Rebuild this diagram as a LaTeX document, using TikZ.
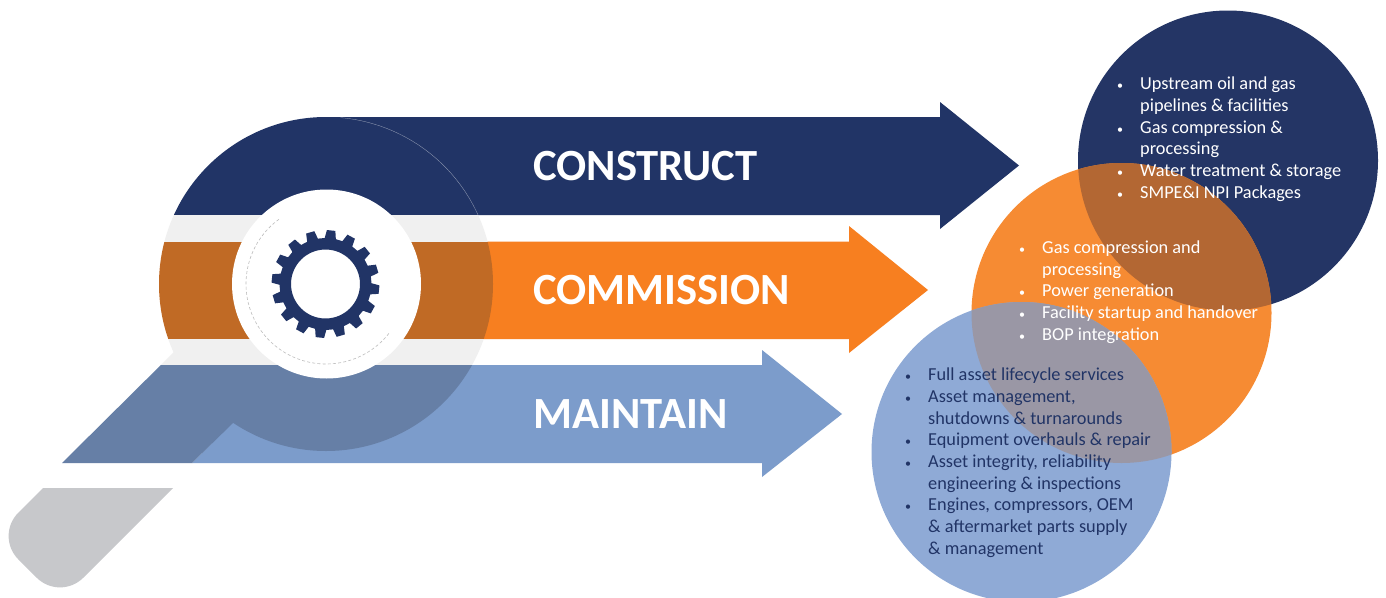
\documentclass[tikz,border=0pt]{standalone}
\usepackage{fontspec}
\setmainfont{Carlito}
\definecolor{navy}{HTML}{213466}
\definecolor{navyc}{HTML}{243565}
\definecolor{orangea}{HTML}{F77F20}
\definecolor{orangei}{HTML}{C06A25}
\definecolor{orangec}{HTML}{F68B33}
\definecolor{bluea}{HTML}{7C9CCB}
\definecolor{bluei}{HTML}{667FA6}
\definecolor{bluec}{HTML}{8FAAD6}
\definecolor{bandgrey}{HTML}{F0F0F0}
\definecolor{tailgrey}{HTML}{C7C8CB}
\definecolor{ovnavy}{HTML}{B36733}
\definecolor{ovblue}{HTML}{9A97A5}
\definecolor{dashgrey}{HTML}{BDBDBD}
\newcommand{\bl}{\leavevmode\llap{{\fontsize{12}{12}\selectfont\textbullet}\hspace{17pt}}}
\tikzset{
  title/.style={font=\fontsize{44.6}{44.6}\selectfont\bfseries, text=white, anchor=west, inner sep=0pt},
  listtext/.style={font=\fontsize{18.3}{21.65}\selectfont, align=left, anchor=north west, inner sep=0pt},
}
\begin{document}
\begin{tikzpicture}[x=1pt,y=-1pt]
\clip (0,0) rectangle (1386,597);
\fill[white] (0,0) rectangle (1386,597);
% arrows
\fill[navy] (326,117) -- (940,117) -- (940,102) -- (1019,165.5) -- (940,229) -- (940,215) -- (326,215) -- cycle;
\fill[orangea] (326,241.5) -- (849,241.5) -- (849,226) -- (928,290) -- (849,353) -- (849,339) -- (326,339) -- cycle;
\fill[bluea] (192,463) -- (290,365) -- (762,365) -- (762,350) -- (842,414) -- (762,477) -- (762,463) -- cycle;
% magnifier body
\begin{scope}
\clip (326,284) circle[radius=167] (62,463) -- (175,351) -- (300,351) -- (300,423) -- (233,423) -- (192,463) -- cycle;
\fill[navy] (50,100) rectangle (500,215);
\fill[bandgrey] (50,215) rectangle (500,241.5);
\fill[orangei] (50,241.5) rectangle (500,339);
\fill[bandgrey] (50,339) rectangle (500,365);
\fill[bluei] (50,365) rectangle (500,470);
\end{scope}
\draw[white!55!navy, line width=0.3pt] plot[domain=24.4:85, samples=40] ({326+167*cos(\x)},{284-167*sin(\x)});
% lens
\fill[white] (326.5,284) circle[radius=94.5];
\draw[dashgrey, line width=0.6pt, dash pattern=on 3pt off 2.2pt] plot[domain=126:323, samples=80] ({326+80*cos(\x)},{284-80*sin(\x)});
% gear
\begin{scope}[shift={(325.5,284)}]
\fill[navy, even odd rule] (0,0) circle[radius=34.5]
  (-91:46)
  \foreach \k [evaluate=\k as \a using -84+22.5*\k] in {0,...,15} {
    -- (\a-7:46) -- (\a-4.5:54) -- (\a+4.5:54) -- (\a+7:46)
  } -- cycle;
\end{scope}
% tail
\fill[tailgrey] (43,488) -- (173,488) -- (83.3,577.7) .. controls (70.4,590.6) and (49.6,590.6) .. (36.7,577.7) -- (18.3,559.3) .. controls (5.4,546.4) and (5.4,525.6) .. (18.3,512.7) -- cycle;
% circles
\fill[navyc] (1228,160.5) circle[radius=150];
\fill[orangec] (1121.5,313) circle[radius=150];
\begin{scope}
\clip (1228,160.5) circle[radius=150];
\fill[ovnavy] (1121.5,313) circle[radius=150];
\end{scope}
\fill[bluec] (1021.5,452) circle[radius=150];
\begin{scope}
\clip (1121.5,313) circle[radius=150];
\fill[ovblue] (1021.5,452) circle[radius=150];
\end{scope}
% titles
\node[title] (construct) at (533,166) {CONSTRUCT};
\node[title] (commission) at (533,290) {COMMISSION};
\node[title] (maintain) at (533,414) {MAINTAIN};
% lists
\node[listtext, text=white] (listconstruct) at (1140,77) {\bl Upstream oil and gas\\pipelines \& facilities\\\bl Gas compression \&\\processing\\\bl Water treatment \& storage\\\bl SMPE\&I NPI Packages};
\node[listtext, text=white] (listcommission) at (1042,240.5) {\bl Gas compression and\\processing\\\bl Power generation\\\bl Facility startup and handover\\\bl BOP integration};
\node[listtext, text=navy] (listmaintain) at (928,368) {\bl Full asset lifecycle services\\\bl Asset management,\\shutdowns \& turnarounds\\\bl Equipment overhauls \& repair\\\bl Asset integrity, reliability\\engineering \& inspections\\\bl Engines, compressors, OEM\\\& aftermarket parts supply\\\& management};
\end{tikzpicture}
\end{document}
